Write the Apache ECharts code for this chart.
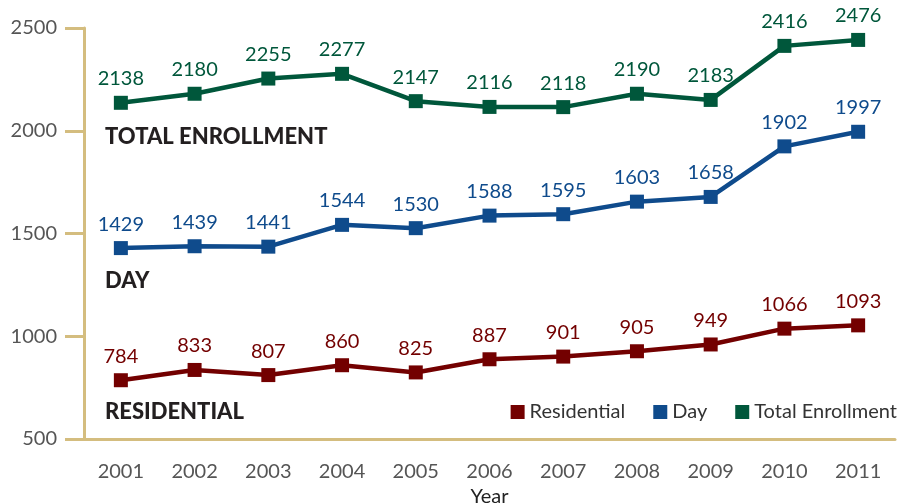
<!DOCTYPE html>
<html><head><meta charset="utf-8">
<script src="https://cdn.jsdelivr.net/npm/echarts@6/dist/echarts.min.js"></script>
<style>html,body{margin:0;padding:0;background:#fff}#c{width:901px;height:504px}</style>
</head><body><div id="c"></div>
<script>
const years = ['2001','2002','2003','2004','2005','2006','2007','2008','2009','2010','2011'];
// printed value labels
const residentialLabels = [784,833,807,860,825,887,901,905,949,1066,1093];
const dayLabels = [1429,1439,1441,1544,1530,1588,1595,1603,1658,1902,1997];
const totalLabels = [2138,2180,2255,2277,2147,2116,2118,2190,2183,2416,2476];
// marker positions as drawn in the picture
const residential = [786,836,811,859,824,888,901,927,960,1037,1053];
const day = [1429,1438,1436,1542,1526,1587,1594,1655,1678,1924,1995];
const total = [2136,2180,2254,2277,2144,2116,2115,2180,2150,2413,2442];
const yTicks = [500,1000,1500,2000,2500];

const FONT = 'Lato, "Open Sans", sans-serif';
const AXIS = '#d4bd7f';
const colors = {res:'#730000', day:'#0f4b8c', tot:'#00573b'};

function ser(name, data, labels, color){
  return {name, type:'line', data, symbol:'rect', symbolSize:14,
    lineStyle:{width:4.5,color}, itemStyle:{color},
    label:{show:true,position:'top',distance:7,color,fontSize:20,fontFamily:FONT,
      formatter:p=>String(labels[p.dataIndex])},
    z:3};
}
const chart = echarts.init(document.getElementById('c'));
chart.setOption({
  animation:false,
  grid:{left:84,right:6,top:28,bottom:65,containLabel:false,outerBoundsMode:'none'},
  xAxis:{type:'category',data:years,boundaryGap:true,
    name:'Year',nameLocation:'middle',nameGap:48,
    nameTextStyle:{fontSize:20,color:'#222',fontFamily:FONT},
    axisLine:{lineStyle:{color:AXIS,width:3}},
    axisTick:{alignWithLabel:true,length:15,lineStyle:{color:AXIS,width:3}},
    axisLabel:{fontSize:20,color:'#555',fontFamily:FONT,margin:23}},
  yAxis:{type:'value',min:500,max:2500,interval:500,
    axisLine:{show:true,lineStyle:{color:AXIS,width:3}},
    axisTick:{show:true,length:19,lineStyle:{color:AXIS,width:3}},
    splitLine:{show:false},
    axisLabel:{fontSize:20,color:'#555',fontFamily:FONT,margin:27,
      formatter:v=>yTicks.includes(v)?String(v):''}},
  legend:{right:4,top:402,padding:0,itemWidth:14,itemHeight:14,itemGap:28,icon:'rect',
    textStyle:{fontSize:20,color:'#333',fontFamily:FONT},
    data:['Residential','Day','Total Enrollment']},
  graphic:[
    {type:'text',left:105,top:126,style:{text:'TOTAL ENROLLMENT',font:'900 22px '+FONT,fill:'#231f20'}},
    {type:'text',left:105,top:270,style:{text:'DAY',font:'900 22px '+FONT,fill:'#231f20'}},
    {type:'text',left:105,top:401,style:{text:'RESIDENTIAL',font:'900 22px '+FONT,fill:'#231f20'}}
  ],
  series:[ser('Residential',residential,residentialLabels,colors.res),
          ser('Day',day,dayLabels,colors.day),
          ser('Total Enrollment',total,totalLabels,colors.tot)]
});
</script></body></html>
